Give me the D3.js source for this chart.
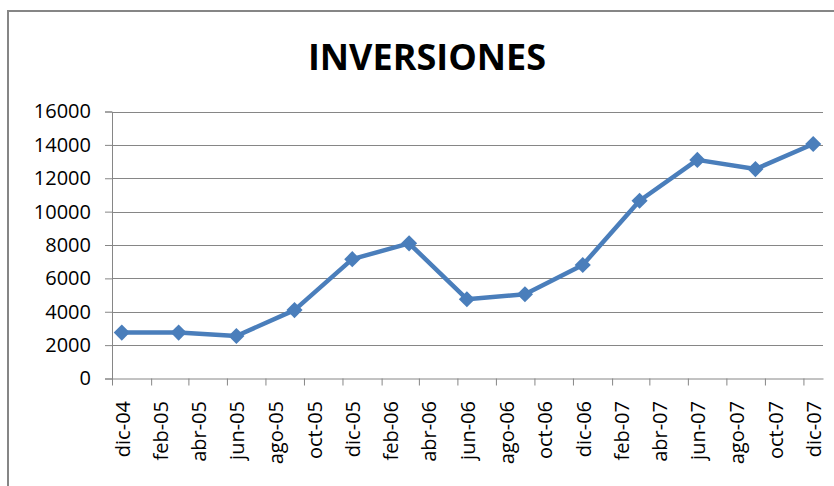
<!DOCTYPE html>
<html>
<head>
<meta charset="utf-8">
<script src="https://cdn.jsdelivr.net/npm/d3@7"></script>
<style>
  body { margin: 0; background: #fff; }
  text { font-family: "Open Sans", sans-serif; fill: #000; }
</style>
</head>
<body>
<div id="chart"></div>
<script>
const title = "INVERSIONES";

// quarterly values
const pointDates = ["2004-12", "2005-03", "2005-06", "2005-09", "2005-12", "2006-03", "2006-06",
                    "2006-09", "2006-12", "2007-03", "2007-06", "2007-09", "2007-12"];
const pointValues = [2750, 2750, 2550, 4100, 7150, 8100, 4750, 5050, 6800, 10650, 13100, 12550, 14050];

const tickLabels = ["dic-04", "feb-05", "abr-05", "jun-05", "ago-05", "oct-05", "dic-05", "feb-06",
                    "abr-06", "jun-06", "ago-06", "oct-06", "dic-06", "feb-07", "abr-07", "jun-07",
                    "ago-07", "oct-07", "dic-07"];
const yTicks = [0, 2000, 4000, 6000, 8000, 10000, 12000, 14000, 16000];

const width = 834, height = 486;
const plotLeft = 112, plotRight = 823, plotTop = 111.5, plotBottom = 378.5;

const parse = d3.timeParse("%Y-%m");
const start = parse("2004-12");
const end = d3.timeMonth.offset(parse("2007-12"), 1);

const x = d3.scaleTime().domain([start, end]).range([plotLeft, plotRight]);
const y = d3.scaleLinear().domain([0, 16000]).range([plotBottom, plotTop]);

// centre of a month slot (excel date axis, between tick marks)
const xMid = d => (x(d) + x(d3.timeMonth.offset(d, 1))) / 2;

const svg = d3.select("#chart").append("svg")
    .attr("width", width)
    .attr("height", height);

// outer chart border (only top and left are visible)
svg.append("path")
    .attr("d", `M8,${height} L8,11 L${width},11`)
    .attr("fill", "none")
    .attr("stroke", "#868686")
    .attr("stroke-width", 2);

svg.append("text")
    .attr("x", 427)
    .attr("y", 70)
    .attr("text-anchor", "middle")
    .style("font-size", "36px")
    .style("font-weight", "bold")
    .text(title);

// gridlines
svg.append("g")
    .selectAll("line")
    .data(yTicks.slice(1))
    .enter()
    .append("line")
    .attr("x1", plotLeft)
    .attr("x2", plotRight)
    .attr("y1", d => Math.round(y(d)) + 0.5)
    .attr("y2", d => Math.round(y(d)) + 0.5)
    .attr("stroke", "#868686")
    .attr("stroke-width", 1);

const yAxis = d3.axisLeft(y).tickValues(yTicks).tickFormat(d3.format("d")).tickSize(7).tickPadding(14);
const yG = svg.append("g")
    .attr("transform", `translate(${plotLeft},0)`)
    .call(yAxis);
yG.select(".domain").attr("stroke", "#868686");
yG.selectAll(".tick line").attr("stroke", "#868686");
yG.selectAll(".tick text")
    .style("font-size", "20px")
    .attr("fill", "#000");

const tickDates = tickLabels.map((d, i) => d3.timeMonth.offset(start, i * 2));
const xAxis = d3.axisBottom(x).tickValues(tickDates).tickSize(7).tickFormat("").tickSizeOuter(0);
const xG = svg.append("g")
    .attr("transform", `translate(0,${plotBottom})`)
    .call(xAxis);
xG.select(".domain").attr("stroke", "#868686");
xG.selectAll(".tick line").attr("stroke", "#868686");

svg.append("g")
    .selectAll("text")
    .data(tickLabels)
    .enter()
    .append("text")
    .attr("transform", (d, i) => `translate(${xMid(tickDates[i]) + 1},401) rotate(-90)`)
    .attr("dy", "0.35em")
    .attr("text-anchor", "end")
    .style("font-size", "20px")
    .text(d => d);

const points = pointDates.map((d, i) => ({ date: parse(d), value: pointValues[i] }));

const line = d3.line()
    .x(d => xMid(d.date))
    .y(d => y(d.value));

svg.append("path")
    .datum(points)
    .attr("d", line)
    .attr("fill", "none")
    .attr("stroke", "#4a7ebb")
    .attr("stroke-width", 4.5)
    .attr("stroke-linejoin", "round");

svg.append("g")
    .selectAll("path")
    .data(points)
    .enter()
    .append("path")
    .attr("d", d3.symbol(d3.symbolSquare, 130))
    .attr("transform", d => `translate(${xMid(d.date)},${y(d.value)}) rotate(45)`)
    .attr("fill", "#4a7ebb");
</script>
</body>
</html>
